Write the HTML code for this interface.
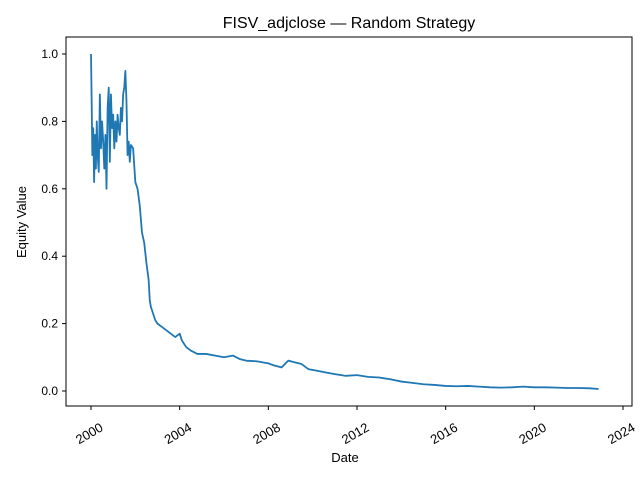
<!DOCTYPE html>
<html><head><meta charset="utf-8"><style>
body{margin:0;background:#fff}
svg text{font-family:"Liberation Sans","DejaVu Sans",sans-serif;fill:#000}
</style></head><body>
<svg id="chart" width="640" height="480">
<rect width="640" height="480" fill="#fff"/>
<text x="349" y="28" font-size="16" text-anchor="middle">FISV_adjclose — Random Strategy</text>
<g id="plot"></g>
<rect x="66" y="37" width="566" height="369" fill="none" stroke="#000" stroke-width="1"/>
<text x="345" y="462" font-size="13" text-anchor="middle">Date</text>
<text transform="translate(26,222) rotate(-90)" font-size="13" text-anchor="middle">Equity Value</text>
</svg>
<script>
const years=[2000.0,2000.03,2000.06,2000.1,2000.14,2000.18,2000.22,2000.26,2000.3,2000.35,2000.4,2000.45,2000.5,2000.55,2000.6,2000.65,2000.7,2000.75,2000.8,2000.85,2000.9,2000.95,2001.0,2001.05,2001.1,2001.15,2001.2,2001.25,2001.3,2001.35,2001.4,2001.45,2001.5,2001.55,2001.6,2001.65,2001.7,2001.75,2001.8,2001.9,2002.0,2002.1,2002.2,2002.3,2002.4,2002.5,2002.6,2002.65,2002.7,2002.8,2002.9,2003.0,2003.2,2003.4,2003.6,2003.8,2004.0,2004.1,2004.3,2004.5,2004.8,2005.2,2005.6,2006.0,2006.4,2006.7,2007.0,2007.5,2008.0,2008.3,2008.6,2008.9,2009.2,2009.5,2009.8,2010.2,2010.6,2011.0,2011.5,2012.0,2012.5,2013.0,2013.5,2014.0,2014.5,2015.0,2015.5,2016.0,2016.5,2017.0,2017.5,2018.0,2018.5,2019.0,2019.5,2020.0,2020.5,2021.0,2021.5,2022.0,2022.5,2022.9];
const values=[1.0,0.86,0.7,0.78,0.62,0.76,0.66,0.8,0.7,0.65,0.88,0.72,0.8,0.74,0.66,0.76,0.6,0.84,0.9,0.68,0.88,0.78,0.82,0.72,0.8,0.74,0.82,0.78,0.76,0.84,0.8,0.88,0.9,0.95,0.86,0.7,0.74,0.68,0.73,0.72,0.62,0.6,0.55,0.47,0.44,0.38,0.33,0.27,0.25,0.23,0.21,0.2,0.19,0.18,0.17,0.16,0.17,0.15,0.13,0.12,0.11,0.11,0.105,0.1,0.105,0.095,0.09,0.088,0.082,0.075,0.07,0.09,0.085,0.08,0.065,0.06,0.055,0.05,0.045,0.047,0.042,0.04,0.035,0.028,0.024,0.02,0.018,0.015,0.014,0.015,0.013,0.011,0.01,0.011,0.013,0.011,0.011,0.01,0.009,0.009,0.008,0.006];
const xTicks=[2000,2004,2008,2012,2016,2020,2024];
const yTicks=[0.0,0.2,0.4,0.6,0.8,1.0];
const xs=y=>91+(y-2000)*(623-91)/24;
const ys=v=>391-v*337;
const NS="http://www.w3.org/2000/svg";
const svg=document.getElementById('chart');
const g=document.getElementById('plot');
xTicks.forEach(t=>{
 const l=document.createElementNS(NS,'line');
 l.setAttribute('x1',xs(t));l.setAttribute('x2',xs(t));l.setAttribute('y1',406);l.setAttribute('y2',410);l.setAttribute('stroke','#000');
 
 
 svg.appendChild(l);
 const tx=document.createElementNS(NS,'text');
 tx.setAttribute('transform',`translate(${xs(t)+13},430) rotate(-30)`);
 tx.setAttribute('text-anchor','end');tx.setAttribute('font-size','13');
 tx.textContent=t;
 
 
 svg.appendChild(tx);
});
yTicks.forEach(t=>{
 const l=document.createElementNS(NS,'line');
 l.setAttribute('x1',62);l.setAttribute('x2',66);l.setAttribute('y1',ys(t));l.setAttribute('y2',ys(t));l.setAttribute('stroke','#000');
 
 
 svg.appendChild(l);
 const tx=document.createElementNS(NS,'text');
 tx.setAttribute('x',58);tx.setAttribute('y',ys(t)+4);tx.setAttribute('text-anchor','end');tx.setAttribute('font-size','12');
 tx.textContent=t.toFixed(1);
 
 
 svg.appendChild(tx);
});
const p=document.createElementNS(NS,'polyline');
p.setAttribute('points',years.map((y,i)=>xs(y)+','+ys(values[i])).join(' '));
p.setAttribute('fill','none');p.setAttribute('stroke','#1f77b4');p.setAttribute('stroke-width','1.8');p.setAttribute('stroke-linejoin','round');


g.appendChild(p);
</script>
</body></html>
